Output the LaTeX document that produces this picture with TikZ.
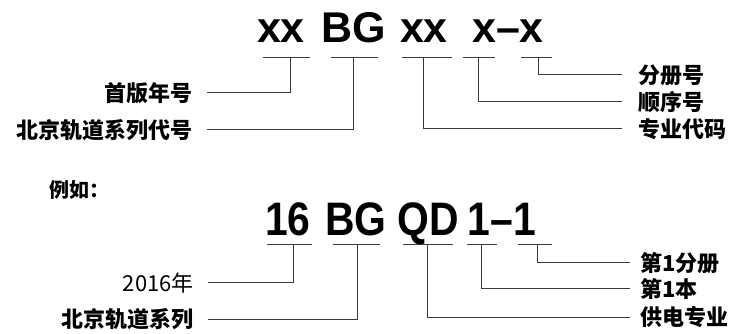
\documentclass[tikz,border=0pt]{standalone}
\usepackage{fontspec}
\usepackage{tikz}
\newfontfamily\cjk{Noto Sans CJK SC}
\newfontfamily\codefont{Liberation Sans}
\newfontfamily\narrowcode[FakeStretch=0.87]{Liberation Sans}
\definecolor{leader}{RGB}{58, 58, 58}

\begin{document}
\begin{tikzpicture}[x=1pt, y=-1pt,
        code/.style   = {anchor=base, inner sep=0pt, font=\codefont\bfseries\fontsize{43}{43}\selectfont},
        sample/.style = {anchor=base, inner sep=0pt, font=\narrowcode\bfseries\fontsize{47}{47}\selectfont},
        tag/.style    = {inner xsep=14pt, inner ysep=0pt, font=\cjk\bfseries\fontsize{22}{22}\selectfont},
        plaintag/.style = {tag, font=\cjk\fontsize{22}{22}\selectfont},
        bar/.style    = {draw=leader, line width=1pt}]
            \useasboundingbox (0,0) rectangle (732,334);

            % general pattern
            \node[code]   (year)   at (281, 43) {xx};
            \node[code]   (series) at (354, 43) {BG};
            \node[code]   (field)  at (424, 43) {xx};
            \node[code]   (number) at (508, 43) {x–x};

            \foreach \l/\t/\r/\n in {263/290/310/a1, 331/353/378/a2, 402/423/452/a3, 463/478/495/a4, 521/538/552/a5}{
                \coordinate (\n) at (\t, 58);
                \draw[bar] (\l, 58) -- (\r, 58);
            }

            \node[tag, anchor=east] (yearTag)   at (207,  93) {首版年号};
            \node[tag, anchor=east] (seriesTag) at (207, 130) {北京轨道系列代号};
            \node[tag, anchor=west, inner xsep=16pt] (volTag)   at (622,  75) {分册号};
            \node[tag, anchor=west, inner xsep=16pt] (seqTag)   at (622, 102) {顺序号};
            \node[tag, anchor=west, inner xsep=16pt] (fieldTag) at (622, 129) {专业代码};

            \draw[bar] (a1) |- (yearTag.east);
            \draw[bar] (a2) |- (seriesTag.east);
            \draw[bar] (a3) |- (fieldTag.west);
            \draw[bar] (a4) |- (seqTag.west);
            \draw[bar] (a5) |- (volTag.west);

            % worked example
            \node[anchor=west, inner sep=0pt, font=\cjk\bfseries\fontsize{20}{20}\selectfont] (eg) at (49, 190) {例如：};

            \node[sample] (year2)   at (288, 236) {16};
            \node[sample] (series2) at (356, 236) {BG};
            \node[sample] (field2)  at (428, 236) {QD};
            \node[sample] (number2) at (502, 236) {1–1};

            \foreach \l/\t/\r/\n in {267/293/312/b1, 333/357/380/b2, 403/427/453/b3, 467/481/497/b4, 518/537/552/b5}{
                \coordinate (\n) at (\t, 245);
                \draw[bar] (\l, 245) -- (\r, 245);
            }

            \node[plaintag, anchor=east] (yearEx)   at (208, 283) {2016年};
            \node[tag, anchor=east]      (seriesEx) at (208, 319) {北京轨道系列};
            \node[tag, anchor=west, inner xsep=10pt] (volEx)   at (630, 263) {第1分册};
            \node[tag, anchor=west, inner xsep=10pt] (seqEx)   at (630, 289) {第1本};
            \node[tag, anchor=west, inner xsep=10pt] (fieldEx) at (630, 317) {供电专业};

            \draw[bar] (b1) |- (yearEx.east);
            \draw[bar] (b2) |- (seriesEx.east);
            \draw[bar] (b3) |- (fieldEx.west);
            \draw[bar] (b4) |- (seqEx.west);
            \draw[bar] (b5) |- (volEx.west);
        \end{tikzpicture}
\end{document}
